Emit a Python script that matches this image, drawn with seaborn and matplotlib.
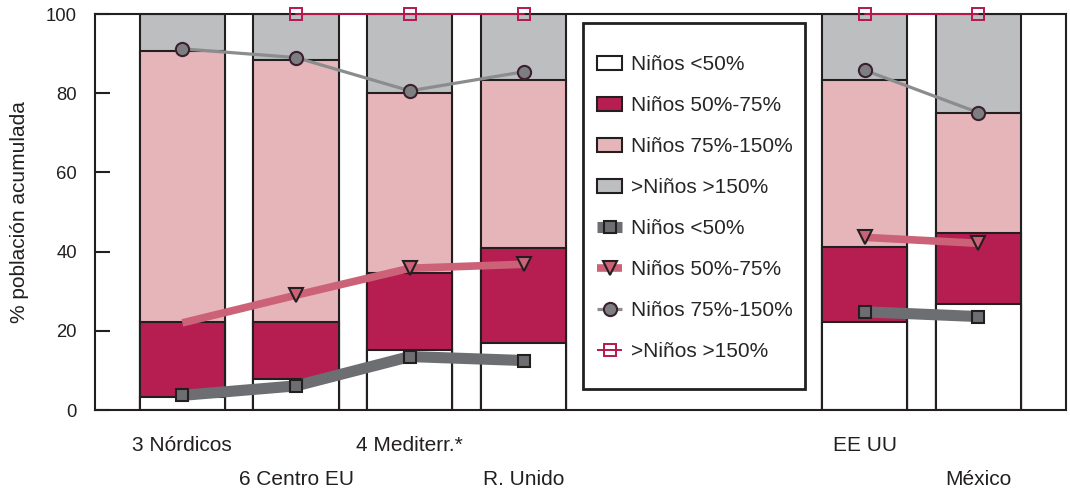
import numpy as np
import pandas as pd
import seaborn as sns
import matplotlib.pyplot as plt
from matplotlib.patches import Patch, Rectangle
from matplotlib.lines import Line2D

# categorias (dos huecos vacios donde va la leyenda)
orden = ['3 Nórdicos', '6 Centro EU', '4 Mediterr.*', 'R. Unido', '_h1', '_h2', 'EE UU', 'México']
paises = ['3 Nórdicos', '6 Centro EU', '4 Mediterr.*', 'R. Unido', 'EE UU', 'México']

# tramos de las barras (% de poblacion)
ninos_50 = [3.4, 7.8, 15.2, 17.0, 22.1, 26.8]
ninos_50_75 = [18.9, 14.5, 19.3, 24.0, 19.1, 18.0]
ninos_75_150 = [68.4, 66.1, 45.5, 42.3, 42.1, 30.3]
ninos_150 = [9.3, 11.6, 20.0, 16.7, 16.7, 24.9]

# lineas acumuladas (posiciones 0..7, NaN en los huecos)
lin_50 = [3.7, 6.1, 13.5, 12.5, np.nan, np.nan, 24.8, 23.6]
lin_50_75 = [22.0, 29.0, 35.8, 36.8, np.nan, np.nan, 43.6, 42.1]
lin_75_150 = [91.2, 89.0, 80.6, 85.4, np.nan, np.nan, 85.8, 75.1]
lin_150 = [np.nan, 100, 100, 100, np.nan, np.nan, 100, 100]

etiquetas = ['Niños <50%', 'Niños 50%-75%', 'Niños 75%-150%', '>Niños >150%']

oscuro = '#231f20'
colores = ['white', '#b61e52', '#e6b5b9', '#bdbec0']

sns.set_style('ticks')
plt.rcParams['font.family'] = ['Liberation Sans', 'DejaVu Sans']

df = pd.DataFrame({'pais': paises, 'a': ninos_50, 'b': ninos_50_75,
                   'c': ninos_75_150, 'd': ninos_150})
acum = df[['a', 'b', 'c', 'd']].cumsum(axis=1)

fig = plt.figure(figsize=(10.7, 4.88), dpi=100)
ax = fig.add_axes([0.0888, 0.1598, 0.9075, 0.8115])

# barras apiladas: se dibuja de arriba hacia abajo
for col, color in zip(['d', 'c', 'b', 'a'], colores[::-1]):
    sns.barplot(x=df['pais'], y=acum[col], order=orden, color=color, saturation=1,
                edgecolor=oscuro, linewidth=1.5, width=0.75, errorbar=None, ax=ax)

estilos = [
    dict(color='#6d6e71', lw=8, marker='s', ms=9, mfc='#6d6e71', mec=oscuro, mew=1.5),
    dict(color='#cc6277', lw=5.5, marker='v', ms=10, mfc='#cc6277', mec=oscuro, mew=1.5),
    dict(color='#8b8c8e', lw=2.3, marker='o', ms=9.5, mfc='#7d7e80', mec='#3d2030', mew=1.5),
    dict(color='#b5174f', lw=1.4, marker='s', ms=9, mfc='none', mec='#b5174f', mew=1.4),
]

pos = np.arange(len(orden))
ax.plot(pos, lin_50, zorder=5, solid_capstyle='butt', **estilos[0])
ax.plot(pos, lin_50_75, zorder=5, solid_capstyle='butt', markevery=[1, 2, 3, 6, 7], **estilos[1])
ax.plot(pos, lin_75_150, zorder=5, solid_capstyle='butt', **estilos[2])
ax.plot(pos, lin_150, zorder=5, clip_on=False, **estilos[3])

ax.set_xlim(-0.768, 7.77)
ax.set_ylim(0, 100)
ax.set_yticks([0, 20, 40, 60, 80, 100])
ax.set_xticks([0, 2, 6])
ax.set_xticklabels(['3 Nórdicos', '4 Mediterr.*', 'EE UU'])
ax.set_xticks([1, 3, 7], minor=True)
ax.set_xticklabels(['6 Centro EU', 'R. Unido', 'México'], minor=True)
ax.tick_params(axis='x', which='both', direction='in', length=7, width=1.3,
               color=oscuro, labelsize=15, labelcolor=oscuro)
ax.tick_params(axis='x', which='major', pad=18.5)
ax.tick_params(axis='x', which='minor', pad=43)
ax.tick_params(axis='y', direction='in', length=11, width=1.5, color=oscuro,
               labelsize=13.3, labelcolor=oscuro, pad=13)
ax.set_xlabel('')
ax.set_ylabel('% población acumulada', fontsize=15, color=oscuro, labelpad=12)
for s in ax.spines.values():
    s.set_visible(True)
    s.set_color(oscuro)
    s.set_linewidth(1.5)

# marco de la leyenda
ax.add_patch(Rectangle((0.5026, 0.053), 0.2286, 0.924, transform=ax.transAxes,
                       facecolor='white', edgecolor=oscuro, lw=2, zorder=9))

handles = [Patch(facecolor=c, edgecolor=oscuro, linewidth=1.5) for c in colores]
handles += [Line2D([], [], solid_capstyle='butt', **e) for e in estilos]
leg = ax.legend(handles, etiquetas + etiquetas, loc='center left', bbox_to_anchor=(0.517, 0.509),
                borderaxespad=0, borderpad=0, fontsize=15, frameon=False,
                labelspacing=1.056, handlelength=1.2, handleheight=0.62, handletextpad=0.42)
leg.set_zorder(10)

fig.savefig('out.png', dpi=100)
